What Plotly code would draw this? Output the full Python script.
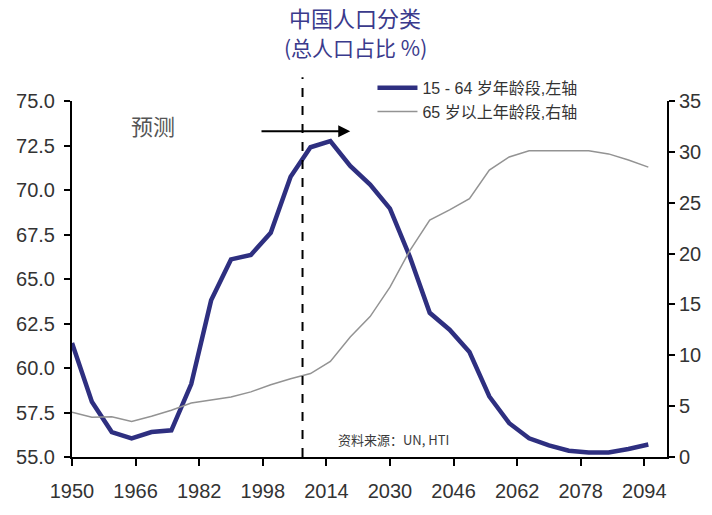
import plotly.graph_objects as go

# ---- data ----
years = [1950, 1955, 1960, 1965, 1970, 1975, 1980, 1985, 1990, 1995,
         2000, 2005, 2010, 2015, 2020, 2025, 2030, 2035, 2040, 2045,
         2050, 2055, 2060, 2065, 2070, 2075, 2080, 2085, 2090, 2095]

working_age = [61.4, 58.1, 56.4, 56.05, 56.4, 56.5, 59.1, 63.8, 66.1, 66.35,
               67.6, 70.75, 72.4, 72.75, 71.35, 70.3, 68.95, 66.25, 63.1, 62.15,
               60.9, 58.4, 56.9, 56.05, 55.65, 55.35, 55.25, 55.25, 55.45, 55.7]

elderly = [4.4, 3.9, 3.95, 3.5, 4.0, 4.6, 5.3, 5.6, 5.9, 6.4,
           7.1, 7.7, 8.2, 9.4, 11.8, 13.8, 16.7, 20.3, 23.3, 24.3,
           25.4, 28.2, 29.5, 30.1, 30.1, 30.1, 30.1, 29.8, 29.2, 28.5]

x_ticks = [1950, 1966, 1982, 1998, 2014, 2030, 2046, 2062, 2078, 2094]
left_ticks = [55.0, 57.5, 60.0, 62.5, 65.0, 67.5, 70.0, 72.5, 75.0]
right_ticks = [0, 5, 10, 15, 20, 25, 30, 35]

forecast_year = 2008
arrow_from, arrow_to, arrow_level = 1997.3, 2020, 73.3

series_names = ["15 - 64 岁年龄段,左轴", "65 岁以上年龄段,右轴"]
title_lines = ["中国人口分类", "(总人口占比 %)"]
source_text = "资料来源：UN, HTI"

FONT = "Arial, 'Liberation Sans', 'Noto Sans CJK SC', sans-serif"
CJK = "'Noto Sans CJK SC', 'Liberation Sans', sans-serif"
NAVY = "#2e2f80"

fig = go.Figure()
fig.add_trace(go.Scatter(x=years, y=working_age, name=series_names[0], mode="lines",
                         line=dict(color=NAVY, width=4.5), yaxis="y"))
fig.add_trace(go.Scatter(x=years, y=elderly, name=series_names[1], mode="lines",
                         line=dict(color="#939393", width=1.5), yaxis="y2"))

tick_font = dict(family=FONT, size=20, color="#333333")

fig.update_layout(
    width=712, height=515,
    margin=dict(l=72, r=45, t=101, b=58),
    paper_bgcolor="white", plot_bgcolor="white",
    showlegend=True,
    legend=dict(x=0.505, y=1.085, xanchor="left", yanchor="top",
                font=dict(family=FONT, size=16, color="#333333"),
                bgcolor="rgba(0,0,0,0)", tracegroupgap=0, itemwidth=40),
    xaxis=dict(range=[1950, 2099.7], tickvals=x_ticks, ticktext=[str(v) for v in x_ticks],
               showgrid=False, zeroline=False, showline=True, linecolor="black", linewidth=2,
               ticks="outside", ticklen=7, tickwidth=2, tickcolor="black",
               ticklabelstandoff=8, tickfont=tick_font),
    yaxis=dict(range=[55, 75], tickvals=left_ticks, tickformat=".1f",
               showgrid=False, zeroline=False, showline=True, linecolor="black", linewidth=2,
               ticks="outside", ticklen=6, tickwidth=2, tickcolor="black",
               ticklabelstandoff=5, tickfont=tick_font),
    yaxis2=dict(range=[0, 35], tickvals=right_ticks, overlaying="y", side="right",
                showgrid=False, zeroline=False, showline=True, linecolor="black", linewidth=2,
                ticks="outside", ticklen=6, tickwidth=2, tickcolor="black",
                tickfont=tick_font),
)

# forecast divider
fig.add_shape(type="line", xref="x", yref="paper", x0=forecast_year, x1=forecast_year,
              y0=0, y1=1.067, line=dict(color="black", width=2, dash="dash"))

# forecast arrow
fig.add_annotation(x=arrow_to, y=arrow_level, ax=arrow_from, ay=arrow_level,
                   xref="x", yref="y", axref="x", ayref="y", text="",
                   showarrow=True, arrowhead=2, arrowsize=1.2, arrowwidth=2, arrowcolor="black")

fig.add_annotation(x=1970.5, y=73.65, xref="x", yref="y", text="预测", showarrow=False,
                   font=dict(family=CJK, size=22, color="#555555"))

# title
fig.add_annotation(x=0.476, y=1.236, xref="paper", yref="paper", text=title_lines[0],
                   showarrow=False, yanchor="middle",
                   font=dict(family=CJK, size=22, color="#3a3a8c"))
fig.add_annotation(x=0.476, y=1.152, xref="paper", yref="paper", text=title_lines[1],
                   showarrow=False, yanchor="middle",
                   font=dict(family=CJK, size=21, color="#3a3a8c"))

# source
fig.add_annotation(x=0.444, y=0.05, xref="paper", yref="paper", text=source_text,
                   showarrow=False, xanchor="left", yanchor="middle",
                   font=dict(family=CJK, size=13, color="#3a3a3a"))

fig.write_html("out.html", config={"displayModeBar": False},
               post_script="document.body.style.margin='0px';")
